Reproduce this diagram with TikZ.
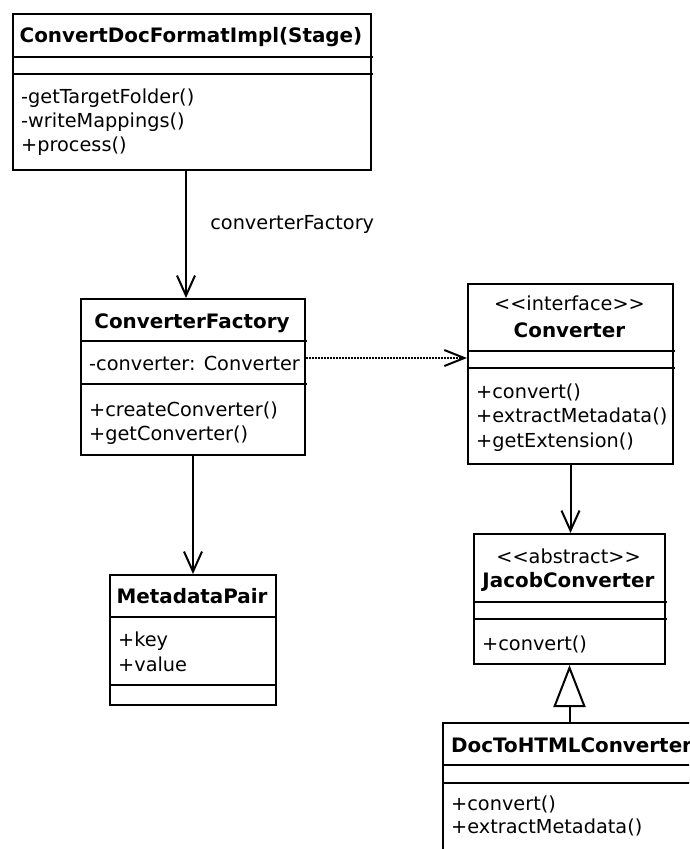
\documentclass[tikz,border=0pt]{standalone}
\usepackage{fontspec}
\setmainfont{DejaVu Sans}
\usetikzlibrary{arrows.meta}

\newcommand{\umlfont}{\fontsize{19.3pt}{24pt}\selectfont}
\newcommand{\umlstereo}[1]{<\kern0pt<#1>\kern0pt>}

\tikzset{
  classbox/.style={draw, line width=2pt, anchor=north west, inner sep=0pt},
  classname/.style={font=\fontsize{19.9pt}{24pt}\selectfont\bfseries, anchor=base, inner sep=0pt},
  stereotype/.style={anchor=base, inner sep=0pt},
  member/.style={anchor=base west, inner sep=0pt},
  compsep/.style={line width=2pt},
  assoc/.style={line width=2pt, -{Straight Barb[length=20pt,width=18pt]}},
  depend/.style={line width=1.5pt, dash pattern=on 1.5pt off 1.5pt, -{Straight Barb[length=20pt,width=16pt,line width=2pt]}},
  inherit/.style={line width=2pt, -{Triangle[open,length=42pt,width=32pt]}},
}

\begin{document}
\begin{tikzpicture}[x=1pt, y=-1pt, font=\umlfont]
            \useasboundingbox (0,0) rectangle (689,849);
            \clip (0,0) rectangle (689,849);

            % ConvertDocFormatImpl
            \node[classbox, minimum width=358pt, minimum height=156pt] (impl) at (12,13) {};
            \node[classname] (implname) at (191,42) {ConvertDocFormatImpl(Stage)};
            \draw[compsep] (12,57) -- (373,57);
            \draw[compsep] (12,74) -- (373,74);
            \node[member] (implm1) at (21,103) {-getTargetFolder()};
            \node[member] (implm2) at (21,127) {-writeMappings()};
            \node[member] (implm3) at (21,151) {+process()};

            % ConverterFactory
            \node[classbox, minimum width=224pt, minimum height=156pt] (factory) at (80,298) {};
            \node[classname] (factoryname) at (192,328) {ConverterFactory};
            \draw[compsep] (80,341) -- (307,341);
            \draw[compsep] (80,384) -- (307,384);
            \node[member] (factorya1) at (89,370) {-converter: Converter};
            \node[member] (factorym1) at (89,416) {+createConverter()};
            \node[member] (factorym2) at (89,440) {+getConverter()};

            % Converter
            \node[classbox, minimum width=205pt, minimum height=180pt] (conv) at (467,283) {};
            \node[stereotype] (convstereo) at (569.5,310) {\umlstereo{interface}};
            \node[classname] (convname) at (569.5,337) {Converter};
            \draw[compsep] (467,351) -- (675,351);
            \draw[compsep] (467,368) -- (675,368);
            \node[member] (convm1) at (476,398) {+convert()};
            \node[member] (convm2) at (476,422.5) {+extractMetadata()};
            \node[member] (convm3) at (476,447) {+getExtension()};

            % JacobConverter
            \node[classbox, minimum width=191pt, minimum height=130pt] (jacob) at (473,533) {};
            \node[stereotype] (jacobstereo) at (568.5,563) {\umlstereo{abstract}};
            \node[classname] (jacobname) at (568.5,587) {JacobConverter};
            \draw[compsep] (473,602) -- (667,602);
            \draw[compsep] (473,619) -- (667,619);
            \node[member] (jacobm1) at (482,650) {+convert()};

            % DocToHTMLConverter
            \node[classbox, minimum width=300pt, minimum height=200pt] (doc) at (442,722) {};
            \node[classname, anchor=base west] (docname) at (451,752) {DocToHTMLConverter};
            \draw[compsep] (442,765) -- (745,765);
            \draw[compsep] (442,783) -- (745,783);
            \node[member] (docm1) at (451,810) {+convert()};
            \node[member] (docm2) at (451,833) {+extractMetadata()};

            % MetadataPair
            \node[classbox, minimum width=166pt, minimum height=130pt] (pair) at (109,574) {};
            \node[classname] (pairname) at (192,603) {MetadataPair};
            \draw[compsep] (109,617) -- (277,617);
            \draw[compsep] (109,685) -- (277,685);
            \node[member] (paira1) at (118,646) {+key};
            \node[member] (paira2) at (118,671) {+value};

            % relations
            \draw[assoc] ([xshift=-6pt]impl.south) -- ([xshift=-6pt]impl.south |- factory.north)
                node[pos=0.42, anchor=west, xshift=20pt] (factorylabel) {converterFactory};
            \draw[assoc] (factory.south) -- (pair.north);
            \draw[depend] ([yshift=19pt]factory.east) -- ([yshift=19pt]factory.east -| conv.west);
            \draw[assoc] (conv.south) -- (conv.south |- jacob.north);
            \draw[inherit] (jacob.south |- doc.north) -- (jacob.south);
        \end{tikzpicture}
\end{document}
